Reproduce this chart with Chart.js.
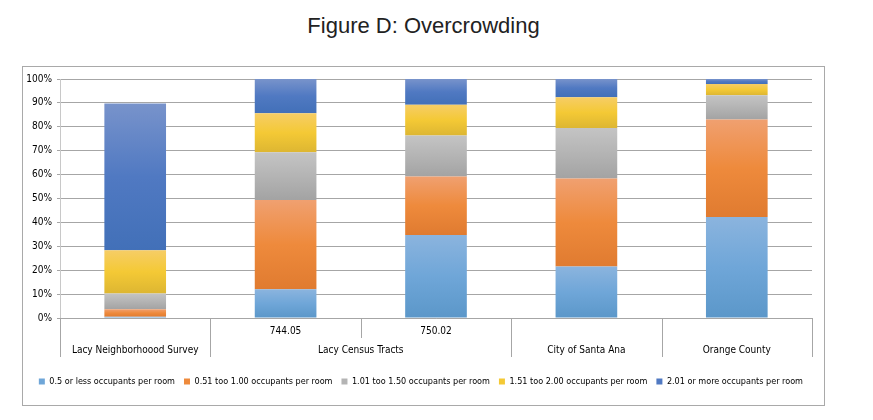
<!DOCTYPE html>
<html>
<head>
<meta charset="utf-8">
<title>Figure D: Overcrowding</title>
<script src="https://cdn.jsdelivr.net/npm/chart.js@4.4.1/dist/chart.umd.min.js"></script>
<style>
  html, body { margin: 0; padding: 0; background: #fff; }
  body { width: 873px; height: 420px; position: relative; overflow: hidden; }
  #title {
    position: absolute; left: 22px; width: 803px; top: 13px;
    text-align: center; font: 22px "Liberation Sans", Arial, sans-serif; color: #222;
  }
  #box {
    position: absolute; left: 22px; top: 66px; width: 803px; height: 340px;
    box-sizing: border-box; border: 1px solid #a9a9a9;
  }
</style>
</head>
<body>
<div id="title">Figure D: Overcrowding</div>
<div id="box"><canvas id="overcrowdingChart" width="801" height="338"></canvas></div>
<script>
// categories: lower level (tract) and upper level (area group)
const tractLabels = ['', '744.05', '750.02', '', ''];
const groupLabels = ['Lacy Neighborhoood Survey', 'Lacy Census Tracts', 'Lacy Census Tracts', 'City of Santa Ana', 'Orange County'];

const seriesNames = [
    '0.5 or less occupants per room',
    '0.51 too 1.00 occupants per room',
    '1.01 too 1.50 occupants per room',
    '1.51 too 2.00 occupants per room',
    '2.01 or more occupants per room'
];

// percent of households
const lowOcc = [0.5, 12.0, 34.7, 21.5, 42.3];
const midOcc = [3.2, 37.4, 24.5, 36.9, 40.8];
const highOcc = [6.6, 19.9, 17.2, 21.1, 10.1];
const veryHighOcc = [18.0, 16.4, 12.8, 12.9, 4.7];
const severeOcc = [61.4, 14.3, 10.8, 7.6, 2.1];
const seriesValues = [lowOcc, midOcc, highOcc, veryHighOcc, severeOcc];

const yTickValues = [0, 10, 20, 30, 40, 50, 60, 70, 80, 90, 100];

// top / middle / bottom colour of each segment's gradient
const palette = [
    ['#8bb4de', '#6fa6d8', '#5b97c9'],
    ['#f0a070', '#ee8a3c', '#e07b30'],
    ['#c4c4c4', '#b4b4b4', '#a3a3a3'],
    ['#f6cd66', '#f4c935', '#ddb632'],
    ['#7893cb', '#5079c2', '#4270b8']
];

const labelFont = '"DejaVu Sans Condensed", "Liberation Sans", sans-serif';

function segmentFill(c) {
    const chart = c.chart;
    const cols = palette[c.datasetIndex];
    if (!chart.chartArea || c.dataIndex === undefined) return cols[1];
    const y = chart.scales.y;
    let base = 0;
    for (let k = 0; k < c.datasetIndex; k++) base += seriesValues[k][c.dataIndex];
    const top = base + seriesValues[c.datasetIndex][c.dataIndex];
    const y1 = y.getPixelForValue(top), y2 = y.getPixelForValue(base);
    if (!isFinite(y1) || !isFinite(y2) || y1 === y2) return cols[1];
    const g = chart.ctx.createLinearGradient(0, y1, 0, y2);
    g.addColorStop(0, cols[0]);
    g.addColorStop(0.5, cols[1]);
    g.addColorStop(1, cols[2]);
    return g;
}

// two-level category axis: tract labels, then grouped area labels
const multiLevelAxis = {
    id: 'multiLevelAxis',
    afterDraw(chart) {
        const ctx = chart.ctx;
        const xs = chart.scales.x;
        const area = chart.chartArea;
        const n = groupLabels.length;
        const half = (xs.getPixelForValue(1) - xs.getPixelForValue(0)) / 2;
        const top = area.bottom, mid = area.bottom + 20, bottom = area.bottom + 39;
        ctx.save();
        ctx.strokeStyle = '#a6a6a6';
        ctx.lineWidth = 1;
        ctx.fillStyle = '#000';
        ctx.font = '10px ' + labelFont;
        ctx.textAlign = 'center';
        ctx.textBaseline = 'middle';
        const vline = (px, y2) => {
            const xx = Math.round(px) + 0.5;
            ctx.beginPath(); ctx.moveTo(xx, top); ctx.lineTo(xx, y2); ctx.stroke();
        };
        for (let i = 0; i < n; i++) {
            const cx = xs.getPixelForValue(i);
            if (tractLabels[i]) ctx.fillText(tractLabels[i], cx, top + 13);
            if (i === 0 || groupLabels[i] !== groupLabels[i - 1]) {
                vline(cx - half, bottom);
            } else {
                vline(cx - half, mid);
            }
        }
        vline(xs.getPixelForValue(n - 1) + half, bottom);
        let start = 0;
        for (let i = 1; i <= n; i++) {
            if (i === n || groupLabels[i] !== groupLabels[start]) {
                const cx = (xs.getPixelForValue(start) + xs.getPixelForValue(i - 1)) / 2;
                ctx.fillText(groupLabels[start], cx, top + 32);
                start = i;
            }
        }
        ctx.restore();
    }
};

const ctx = document.getElementById('overcrowdingChart').getContext('2d');

const overcrowdingChart = new Chart(ctx, {
    type: 'bar',
    data: {
        labels: groupLabels.map((g, i) => tractLabels[i] ? [tractLabels[i], g] : g),
        datasets: seriesValues.map((vals, i) => ({
            label: seriesNames[i],
            data: vals,
            backgroundColor: segmentFill,
            borderWidth: 0,
            barPercentage: 0.41,
            categoryPercentage: 1
        }))
    },
    options: {
        responsive: false,
        animation: false,
        layout: { padding: { top: 12, right: 12, bottom: 9, left: 0 } },
        scales: {
            x: {
                stacked: true,
                grid: { display: false },
                border: { display: true, color: '#a6a6a6' },
                ticks: { display: false },
                afterFit(scale) { scale.height = 50; }
            },
            y: {
                stacked: true,
                min: 0,
                max: 100,
                afterBuildTicks(scale) { scale.ticks = yTickValues.map(v => ({ value: v })); },
                afterFit(scale) { scale.width = 37; },
                grid: { color: '#a6a6a6', tickLength: 3 },
                border: { display: true, color: '#c8c8c8' },
                ticks: {
                    padding: 5,
                    color: '#000',
                    font: { family: labelFont, size: 10 },
                    callback: v => v + '%'
                }
            }
        },
        plugins: {
            title: { display: false },
            tooltip: { enabled: false },
            legend: {
                position: 'bottom',
                align: 'end',
                labels: {
                    boxWidth: 6,
                    boxHeight: 6,
                    padding: 9,
                    color: '#000',
                    font: { family: labelFont, size: 9 },
                    generateLabels: chart => seriesNames.map((name, i) => ({
                        text: name,
                        fillStyle: palette[i][1],
                        strokeStyle: palette[i][1],
                        lineWidth: 0,
                        datasetIndex: i
                    }))
                }
            }
        }
    },
    plugins: [multiLevelAxis]
});
</script>
</body>
</html>
